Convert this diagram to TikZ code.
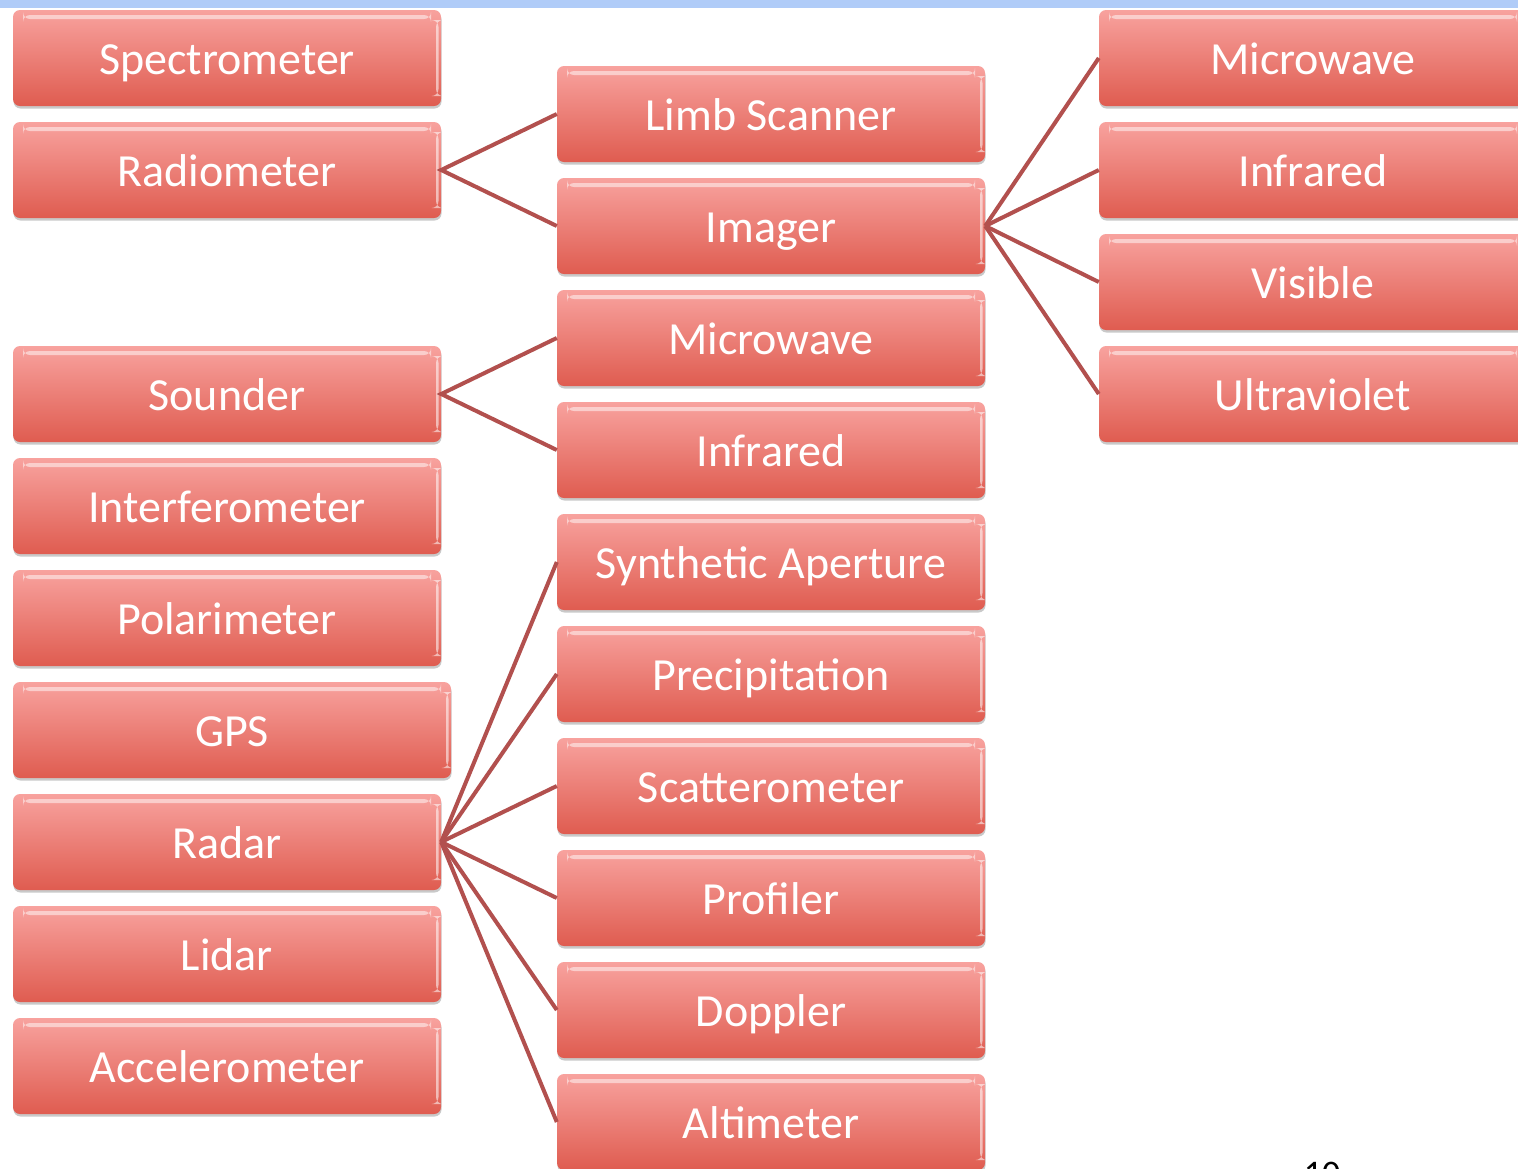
\documentclass[tikz,border=0pt]{standalone}
\usepackage{fontspec}
\setmainfont{Carlito}
\usetikzlibrary{shadows}
\definecolor{boxtop}{RGB}{248,162,158}
\definecolor{boxbot}{RGB}{223,92,80}
\definecolor{linkred}{RGB}{178,80,78}
\definecolor{bandblue}{RGB}{176,204,248}
\tikzset{
  box/.style={rectangle, rounded corners=7pt, minimum width=428pt, minimum height=96pt,
    inner sep=0pt, text height=32pt, text depth=0pt,
    top color=boxtop, bottom color=boxbot, draw=none,
    drop shadow={shadow xshift=0.5pt, shadow yshift=-2.5pt, opacity=0.35, fill=black!60},
    text=white, font=\fontsize{46}{50}\selectfont,
    path picture={
      \fill[white, opacity=0.5]
        ([xshift=10pt,yshift=-5pt]path picture bounding box.north west)
        rectangle ([xshift=-10pt,yshift=-9pt]path picture bounding box.north east);
      \fill[white, opacity=0.55]
        ([xshift=-5pt,yshift=-10pt]path picture bounding box.north east)
        rectangle ([xshift=-2.5pt,yshift=10pt]path picture bounding box.south east);
    }},
  link/.style={draw=linkred, line width=4pt}
}
\begin{document}
\begin{tikzpicture}[x=1pt, y=-1pt]
  \clip (0,0) rectangle (1518,1168);
  \fill[white] (0,0) rectangle (1518,1168);
  \fill[bandblue] (0,0) rectangle (1518,8);

  % left column: instrument types
  \node[box] (spectro) at (227,58) {Spectrometer};
  \node[box] (radio)   at (227,170) {Radiometer};
  \node[box] (sounder) at (227,394) {Sounder};
  \node[box] (interf)  at (227,506) {Interferometer};
  \node[box] (polar)   at (227,618) {Polarimeter};
  \node[box, minimum width=438pt] (gps) at (232,730) {GPS};
  \node[box] (radar)   at (227,842) {Radar};
  \node[box] (lidar)   at (227,954) {Lidar};
  \node[box] (accel)   at (227,1066) {Accelerometer};

  % middle column: sub-types
  \node[box] (limb)    at (771,114) {Limb Scanner};
  \node[box] (imager)  at (771,226) {Imager};
  \node[box] (smw)     at (771,338) {Microwave};
  \node[box] (sir)     at (771,450) {Infrared};
  \node[box] (sar)     at (771,562) {Synthetic Aperture};
  \node[box] (precip)  at (771,674) {Precipitation};
  \node[box] (scatt)   at (771,786) {Scatterometer};
  \node[box] (prof)    at (771,898) {Profiler};
  \node[box] (doppler) at (771,1010) {Doppler};
  \node[box] (alt)     at (771,1122) {Altimeter};

  % right column: imager bands
  \node[box] (imw)  at (1313,58) {Microwave};
  \node[box] (iir)  at (1313,170) {Infrared};
  \node[box] (ivis) at (1313,282) {Visible};
  \node[box] (iuv)  at (1313,394) {Ultraviolet};

  % page number, running off the lower edge
  \node[anchor=north, inner sep=0pt, font=\fontsize{36}{40}\selectfont] (pagenum) at (1322,1162) {10};

  % connectors
  \draw[link] (limb.west) -- (radio.east) -- (imager.west);
  \draw[link] (smw.west) -- (sounder.east) -- (sir.west);
  \foreach \t in {sar,precip,scatt,prof,doppler,alt}
    \draw[link] (radar.east) -- (\t.west);
  \foreach \t in {imw,iir,ivis,iuv}
    \draw[link] (imager.east) -- (\t.west);
\end{tikzpicture}
\end{document}
